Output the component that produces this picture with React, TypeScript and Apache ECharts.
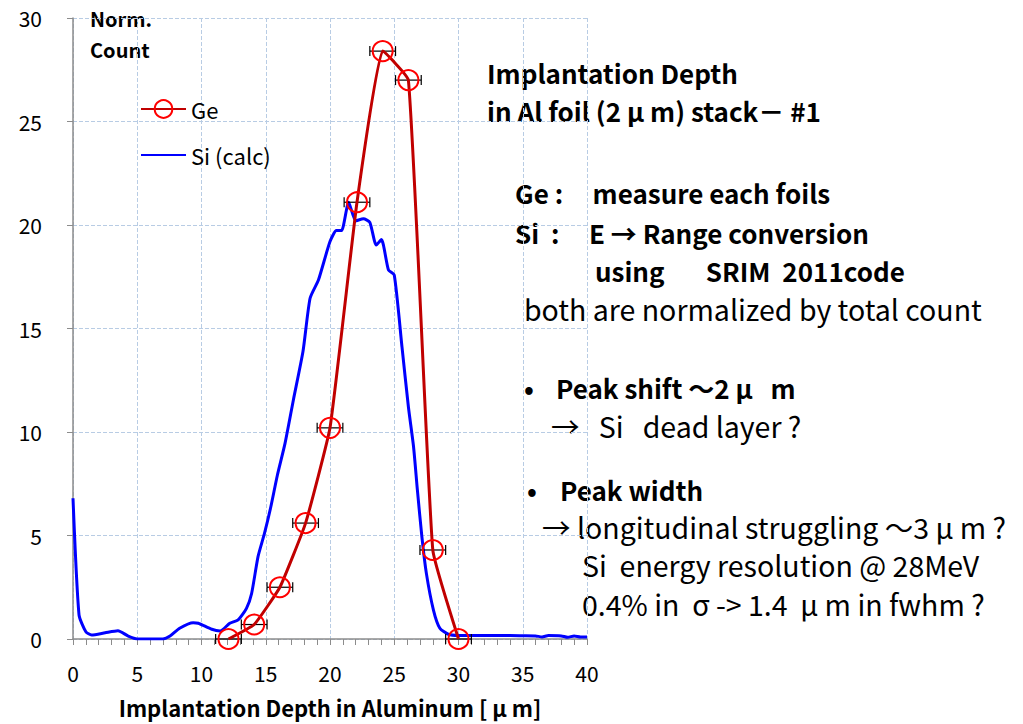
import React, { useEffect, useRef } from "react";
import * as echarts from "echarts";

const geX = [12.1, 14.1, 16.1, 18.1, 20.0, 22.1, 24.1, 26.1, 28.0, 30.0];
const geY = [0, 0.7, 2.5, 5.6, 10.2, 21.1, 28.4, 27.0, 4.3, 0];
const geErr = [1, 1, 1, 1, 1, 1, 1, 1, 1, 1];

const siX = [0, 0.47, 1.0, 1.45, 2.5, 3.5, 4.3, 5.0, 6.0, 7.0, 7.55, 8.3, 9.35, 9.75, 10.8, 11.45, 12.2, 12.85, 13.5, 13.9, 14.4, 14.9, 15.4, 15.9, 16.5, 17.15, 17.9, 18.45, 19.1, 20.0, 20.5, 20.9, 21.45, 22.0, 22.6, 23.1, 23.6, 24.0, 24.55, 25.0, 25.6, 26.1, 26.5, 26.8, 27.15, 27.5, 28.05, 28.55, 29.2, 30, 31, 32, 33, 34, 35, 36, 36.5, 37, 38, 38.5, 39, 39.5, 40];
const siY = [6.8, 1.16, 0.35, 0.19, 0.3, 0.4, 0.14, 0, 0, 0, 0.14, 0.52, 0.79, 0.76, 0.47, 0.39, 0.76, 0.92, 1.48, 2.2, 3.98, 5.1, 6.4, 7.9, 9.45, 11.55, 13.9, 16.46, 17.34, 19.2, 19.73, 19.73, 21.1, 20.2, 20.3, 20.13, 19.03, 19.3, 17.83, 17.58, 14.12, 11.22, 9.3, 7.2, 4.94, 3.17, 1.4, 0.52, 0.23, 0.17, 0.17, 0.17, 0.17, 0.17, 0.16, 0.15, 0.1, 0.17, 0.15, 0.08, 0.15, 0.1, 0.1];

const xTicks = [0, 5, 10, 15, 20, 25, 30, 35, 40];
const yTicks = [0, 5, 10, 15, 20, 25, 30];

const FONT = "'Noto Sans CJK JP', 'Noto Sans', sans-serif";

type Note = { x: number; y: number; text: string; bold?: boolean };
const notes: Note[] = [
  { x: 487, y: 72, text: "Implantation Depth", bold: true },
  { x: 487, y: 110, text: "in Al foil (2 μ m) stack－ #1", bold: true },
  { x: 515, y: 192, text: "Ge :     measure each foils", bold: true },
  { x: 515, y: 232, text: "Si  :     E → Range conversion", bold: true },
  { x: 595, y: 270, text: "using       SRIM  2011code", bold: true },
  { x: 524, y: 308, text: "both are normalized by total count" },
  { x: 524, y: 387, text: "•", bold: true },
  { x: 556, y: 387, text: "Peak shift ～2 μ   m", bold: true },
  { x: 551, y: 425, text: "→   Si   dead layer ?" },
  { x: 527, y: 489, text: "•", bold: true },
  { x: 560, y: 489, text: "Peak width", bold: true },
  { x: 542, y: 526, text: "→ longitudinal struggling ～3 μ m ?" },
  { x: 582, y: 564, text: "Si  energy resolution @ 28MeV" },
  { x: 582, y: 603, text: "0.4% in  σ -> 1.4  μ m in fwhm ?" },
];

export default function App() {
  const ref = useRef<HTMLDivElement>(null);
  useEffect(() => {
    if (!ref.current) return;
    const chart = echarts.init(ref.current, undefined, { renderer: "svg" });
    const siData = siX.map((x, i) => [x, siY[i]]);
    const geData = geX.map((x, i) => [x, geY[i]]);
    const errData = geX.map((x, i) => [x, geY[i], geErr[i]]);
    chart.setOption({
      animation: false,
      backgroundColor: "#ffffff",
      textStyle: { fontFamily: FONT },
      grid: { left: 73, right: 436, top: 18, bottom: 85, outerBoundsMode: "none", containLabel: false },
      legend: {
        data: [
          { name: "Ge" },
          { name: "Si (calc)", itemStyle: { opacity: 0 } },
        ],
        orient: "vertical",
        left: 140,
        top: 98,
        padding: 0,
        itemWidth: 45,
        itemHeight: 22,
        itemGap: 24,
        textStyle: { fontSize: 22, color: "#000", fontFamily: FONT },
      },
      xAxis: {
        type: "value",
        min: xTicks[0],
        max: xTicks[xTicks.length - 1],
        interval: 5,
        name: "Implantation Depth in Aluminum [ μ m]",
        nameLocation: "middle",
        nameGap: 57,
        nameTextStyle: { fontSize: 22, lineHeight: 22, fontWeight: "bold", color: "#000", fontFamily: FONT },
        axisLine: { lineStyle: { color: "#8c8c8c", width: 1.5 } },
        axisTick: { show: true, length: 6, lineStyle: { color: "#8c8c8c" } },
        minorTick: { show: true, splitNumber: 5, length: 6, lineStyle: { color: "#8c8c8c" } },
        axisLabel: { fontSize: 21, color: "#000", margin: 23, fontFamily: FONT },
        splitLine: { show: true, lineStyle: { color: "#b8cce4", type: "dashed", width: 1 } },
      },
      yAxis: {
        type: "value",
        min: yTicks[0],
        max: yTicks[yTicks.length - 1],
        interval: 5,
        axisLine: { show: true, lineStyle: { color: "#8c8c8c", width: 1.5 } },
        axisTick: { show: true, length: 6, lineStyle: { color: "#8c8c8c" } },
        axisLabel: { fontSize: 21, color: "#000", margin: 31, fontFamily: FONT },
        splitLine: { show: true, lineStyle: { color: "#b8cce4", type: "dashed", width: 1 } },
      },
      series: [
        {
          name: "Si (calc)",
          type: "line",
          data: siData,
          showSymbol: false,
          symbol: "none",
          smooth: 0.2,
          lineStyle: { color: "#0000ff", width: 3 },
          itemStyle: { color: "#0000ff" },
          z: 2,
        },
        {
          name: "errbar",
          type: "custom",
          data: errData,
          z: 3,
          renderItem: (params: any, api: any) => {
            const x = api.value(0);
            const y = api.value(1);
            const e = api.value(2);
            const p1 = api.coord([x - e, y]);
            const p2 = api.coord([x + e, y]);
            const st = { stroke: "#000", lineWidth: 1.2 };
            return {
              type: "group",
              children: [
                { type: "line", shape: { x1: p1[0], y1: p1[1], x2: p2[0], y2: p2[1] }, style: st },
                { type: "line", shape: { x1: p1[0], y1: p1[1] - 5, x2: p1[0], y2: p1[1] + 5 }, style: st },
                { type: "line", shape: { x1: p2[0], y1: p2[1] - 5, x2: p2[0], y2: p2[1] + 5 }, style: st },
              ],
            };
          },
        },
        {
          name: "Ge",
          type: "line",
          data: geData,
          smooth: 0.12,
          symbol: "circle",
          symbolSize: 20,
          showSymbol: true,
          lineStyle: { color: "#c00000", width: 3 },
          itemStyle: { color: "rgba(255,255,255,0)", borderColor: "#ff0000", borderWidth: 2 },
          z: 4,
        },
      ],
      graphic: [
        { type: "text", x: 90, y: 18, style: { text: "Norm.", fontSize: 20, fontWeight: "bold", fill: "#000", fontFamily: FONT, verticalAlign: "middle" } },
        { type: "text", x: 90, y: 49, style: { text: "Count", fontSize: 20, fontWeight: "bold", fill: "#000", fontFamily: FONT, verticalAlign: "middle" } },
        ...notes.map((n) => ({
          type: "text",
          x: n.x,
          y: n.y,
          style: {
            text: n.text,
            fontSize: n.bold ? 26 : 28.5,
            fontWeight: n.bold ? "bold" : "normal",
            fill: "#000",
            fontFamily: FONT,
            verticalAlign: "middle",
          },
        })),
      ],
    });
    return () => chart.dispose();
  }, []);
  return <div ref={ref} style={{ position: "fixed", left: 0, top: 0, width: 1023, height: 724 }} />;
}
